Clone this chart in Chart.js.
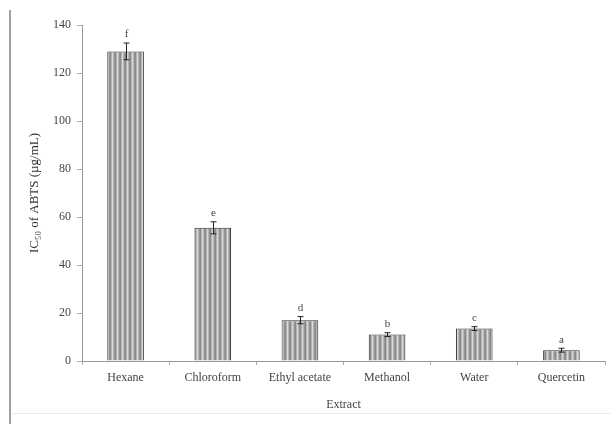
<!DOCTYPE html>
<html>
<head>
<meta charset="utf-8">
<script src="https://cdn.jsdelivr.net/npm/chart.js@4.4.1/dist/chart.umd.min.js"></script>
<style>
  html, body { margin: 0; padding: 0; background: #fff; }
  #wrap { width: 611px; height: 424px; position: relative; }
</style>
</head>
<body>
<div id="wrap"><canvas id="c" width="611" height="424"></canvas></div>
<script>
// Extracts and their ABTS IC50 values (µg/mL)
const categories = ['Hexane', 'Chloroform', 'Ethyl acetate', 'Methanol', 'Water', 'Quercetin'];
const ic50Values = [129, 55.5, 17, 11, 13.5, 4.5];
const errorValues = [3.5, 2.5, 1.5, 0.8, 0.8, 0.8];
const groupLetters = ['f', 'e', 'd', 'b', 'c', 'a'];
const yTicks = [0, 20, 40, 60, 80, 100, 120, 140];

const serif = '"Liberation Serif", "DejaVu Serif", serif';

// vertical stripe fill for the bars
function stripePattern() {
  const p = document.createElement('canvas');
  p.width = 5; p.height = 4;
  const g = p.getContext('2d');
  const cols = ['#8a8a8a', '#b5b5b5', '#d8d8d8', '#b5b5b5', '#969696'];
  cols.forEach((c, i) => { g.fillStyle = c; g.fillRect(i, 0, 1, 4); });
  return g.createPattern(p, 'repeat');
}

const ctx = document.getElementById('c').getContext('2d');

// error bars, group letters and page frame
const decorations = {
  id: 'decorations',
  beforeDraw(chart) {
    const c = chart.ctx;
    c.save();
    c.fillStyle = '#fff';
    c.fillRect(0, 0, chart.width, chart.height);
    c.strokeStyle = '#a0a0a0';
    c.lineWidth = 2;
    c.beginPath();
    c.moveTo(10, 10);
    c.lineTo(10, chart.height);
    c.stroke();
    c.strokeStyle = '#ececec';
    c.lineWidth = 1;
    c.beginPath();
    c.moveTo(11, 413.5);
    c.lineTo(chart.width, 413.5);
    c.stroke();
    c.restore();
  },
  afterDatasetsDraw(chart) {
    const c = chart.ctx;
    const y = chart.scales.y;
    const meta = chart.getDatasetMeta(0);
    c.save();
    c.strokeStyle = '#222';
    c.lineWidth = 1;
    c.fillStyle = '#444';
    c.font = '11px ' + serif;
    c.textAlign = 'center';
    c.textBaseline = 'bottom';
    meta.data.forEach((bar, i) => {
      const x = Math.round(bar.x) + 0.5;
      const top = y.getPixelForValue(ic50Values[i] + errorValues[i]);
      const bot = y.getPixelForValue(ic50Values[i] - errorValues[i]);
      c.beginPath();
      c.moveTo(x, top); c.lineTo(x, bot);
      c.moveTo(x - 3, top); c.lineTo(x + 3, top);
      c.moveTo(x - 3, bot); c.lineTo(x + 3, bot);
      c.stroke();
      c.fillText(groupLetters[i], x, top - 3);
    });
    c.restore();
  }
};

new Chart(ctx, {
  type: 'bar',
  data: {
    labels: categories,
    datasets: [{
      data: ic50Values,
      backgroundColor: stripePattern(),
      borderColor: '#333',
      borderWidth: 1,
      categoryPercentage: 1,
      barPercentage: 0.42
    }]
  },
  options: {
    responsive: false,
    animation: false,
    devicePixelRatio: 1,
    layout: { padding: { top: 25, right: 6, left: 0, bottom: 0 } },
    plugins: { legend: { display: false }, tooltip: { enabled: false } },
    scales: {
      x: {
        offset: true,
        grid: { display: true, offset: true, drawOnChartArea: false, tickLength: 4, color: '#aaa' },
        border: { display: true, color: '#999', width: 1 },
        ticks: { color: '#444', font: { family: serif, size: 12 }, padding: 6, maxRotation: 0 },
        title: { display: true, text: 'Extract', color: '#444', font: { family: serif, size: 12 }, padding: { top: 6, bottom: 12 } },
        afterFit(scale) { scale.height = 63; }
      },
      y: {
        min: 0,
        max: 140,
        afterBuildTicks(scale) { scale.ticks = yTicks.map(v => ({ value: v })); },
        grid: { display: true, drawOnChartArea: false, tickLength: 5, color: '#aaa' },
        border: { display: true, color: '#999', width: 1 },
        ticks: { color: '#444', font: { family: serif, size: 12 }, padding: 6 },
        title: { display: true, text: 'IC\u2085\u2080 of ABTS (\u00b5g/mL)', color: '#333', font: { family: serif, size: 13 }, padding: { top: 27 } },
        afterFit(scale) { scale.width = 82; }
      }
    }
  },
  plugins: [decorations]
});
</script>
</body>
</html>
